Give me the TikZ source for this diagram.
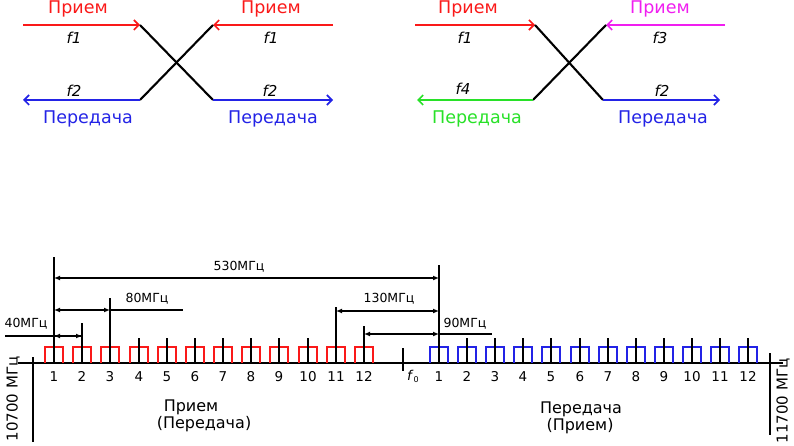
\documentclass[tikz,border=0pt]{standalone}
\usepackage{fontspec}
\setmainfont{DejaVu Sans}
\usetikzlibrary{arrows.meta}

\definecolor{rxred}{RGB}{250,25,25}
\definecolor{rxpink}{RGB}{240,30,240}
\definecolor{txblue}{RGB}{35,35,230}
\definecolor{txgreen}{RGB}{40,225,40}

\newcommand{\axisy}{363}
\newcommand{\rxpitch}{28.18}
\newcommand{\txpitch}{28.1}

\tikzset{
  feed/.style={line width=1.7pt,-{Straight Barb[length=5pt,width=10pt,line width=1.6pt]}},
  crossline/.style={line width=2.1pt},
  bandtext/.style={font=\fontsize{17.5}{18}\selectfont,anchor=base,inner sep=0pt},
  freqtext/.style={font=\fontsize{15}{16}\itshape,anchor=base,inner sep=0pt},
  chbox/.style={line width=1.8pt},
  chtick/.style={line width=1.7pt},
  dimline/.style={line width=1.5pt,{Latex[length=6pt,width=5pt]}-{Latex[length=6pt,width=5pt]}},
  dimtext/.style={font=\fontsize{12.5}{13}\selectfont,anchor=base,inner sep=0pt},
  numtext/.style={font=\fontsize{13.5}{14}\selectfont,anchor=base,inner sep=0pt},
  sidetext/.style={font=\fontsize{16}{17}\selectfont,anchor=base,inner sep=0pt},
  edgetext/.style={font=\fontsize{15}{16}\selectfont,rotate=90,inner sep=0pt},
}

\begin{document}
\begin{tikzpicture}[x=1pt,y=-1pt]
\useasboundingbox (0,0) rectangle (794,446);

% draw first crossing (f1/f2 both sides)
\coordinate (a1) at (23,25);  \coordinate (a2) at (140,25);
\coordinate (a3) at (213,25); \coordinate (a4) at (333,25);
\coordinate (b1) at (23,100); \coordinate (b2) at (140,100);
\coordinate (b3) at (213,100);\coordinate (b4) at (333,100);

\draw[feed,rxred] (a1) -- (a2);
\draw[feed,rxred] (a4) -- (a3);
\draw[crossline] (a2) -- (b3);
\draw[crossline] (b2) -- (a3);
\draw[feed,txblue] (b2) -- (b1);
\draw[feed,txblue] (b3) -- (b4);

\node[bandtext,rxred] (rxA) at (78,13.5) {Прием};
\node[bandtext,rxred] (rxB) at (271,13.5) {Прием};
\node[freqtext] (fA1) at (74,44) {f1};
\node[freqtext] (fB1) at (271,44) {f1};
\node[freqtext] (fA2) at (74,97) {f2};
\node[freqtext] (fB2) at (270,97) {f2};
\node[bandtext,txblue] (txA) at (88,124) {Передача};
\node[bandtext,txblue] (txB) at (273,124) {Передача};

% draw second crossing (four frequencies)
\coordinate (c1) at (415,25); \coordinate (c2) at (535,25);
\coordinate (c3) at (606,25); \coordinate (c4) at (725,25);
\coordinate (e1) at (417,100);\coordinate (e2) at (533,100);
\coordinate (e3) at (603,100);\coordinate (e4) at (720,100);

\draw[feed,rxred] (c1) -- (c2);
\draw[feed,rxpink] (c4) -- (c3);
\draw[crossline] (c2) -- (e3);
\draw[crossline] (e2) -- (c3);
\draw[feed,txgreen] (e2) -- (e1);
\draw[feed,txblue] (e3) -- (e4);

\node[bandtext,rxred] (rxC) at (468,13.5) {Прием};
\node[bandtext,rxpink] (rxD) at (660,13.5) {Прием};
\node[freqtext] (fC1) at (465,44) {f1};
\node[freqtext] (fD3) at (660,44) {f3};
\node[freqtext] (fC4) at (463,95) {f4};
\node[freqtext] (fD2) at (662,97) {f2};
\node[bandtext,txgreen] (txC) at (477,124) {Передача};
\node[bandtext,txblue] (txD) at (663,124) {Передача};

% draw axis and band edges
\coordinate (axL) at (18,\axisy);
\coordinate (axR) at (783,\axisy);
\draw[chtick] (axL) -- (axR);

\coordinate (loA) at (33,357);  \coordinate (loB) at (33,442);
\coordinate (hiA) at (770,353); \coordinate (hiB) at (770,435);
\coordinate (f0A) at (403,348); \coordinate (f0B) at (403,371);
\draw[chtick] (loA) -- (loB);
\draw[chtick] (hiA) -- (hiB);
\draw[chtick] (f0A) -- (f0B);

\node[edgetext] (lowedge) at (13,399) {10700 МГц};
\node[edgetext] (highedge) at (783,401) {11700 МГц};
\node[numtext,anchor=base west] (f0) at (407,380) {\textit{f}\raisebox{-2pt}{\footnotesize 0}};

% draw channels
\foreach \k in {1,...,12}{
  \pgfmathsetmacro\rx{round(54+(\k-1)*\rxpitch)}
  \pgfmathsetmacro\tx{round(439+(\k-1)*\txpitch)}
  \coordinate (r\k) at (\rx,\axisy);
  \coordinate (t\k) at (\tx,\axisy);
  \draw[chbox,rxred] ([xshift=-9pt]r\k) -- ++(0,-16) -- ++(18,0) -- ++(0,16);
  \draw[chbox,txblue] ([xshift=-9pt]t\k) -- ++(0,-16) -- ++(18,0) -- ++(0,16);
  \draw[chtick] (r\k) -- ++(0,-25);
  \draw[chtick] (t\k) -- ++(0,-25);
  \node[numtext] (nr\k) at (\rx,381) {\k};
  \node[numtext] (nt\k) at (\tx,381) {\k};
}

% draw spacing dimensions
\draw[chtick] (r1) -- ++(0,-106);
\draw[chtick] (r2) -- ++(0,-40);
\draw[chtick] (r3) -- ++(0,-65);
\draw[chtick] (r11) -- ++(0,-56);
\draw[chtick] (r12) -- ++(0,-37);
\draw[chtick] (t1) -- ++(0,-98);

\draw[dimline] ([yshift=85pt]r1) -- ([yshift=85pt]t1);
\draw[dimline] ([yshift=53pt]r1) -- ([yshift=53pt]r3);
\draw[chtick] ([yshift=53pt]r3) -- ++(73,0);
\draw[dimline] ([yshift=27pt]r1) -- ([yshift=27pt]r2);
\draw[chtick] ([yshift=27pt]r2) -- ++(-77,0);
\draw[dimline] ([yshift=52pt]r11) -- ([yshift=52pt]t1);
\draw[dimline,line width=2.6pt] ([yshift=29pt]r12) -- ([yshift=29pt]t1);
\draw[chtick] ([yshift=29pt]t1) -- ++(53,0);

\node[dimtext] (d530) at (239,270) {530МГц};
\node[dimtext] (d80) at (147,302) {80МГц};
\node[dimtext] (d40) at (26,327) {40МГц};
\node[dimtext] (d130) at (389,302) {130МГц};
\node[dimtext] (d90) at (465,327) {90МГц};

% band names
\node[sidetext] (rxlow) at (191,411) {Прием};
\node[sidetext] (txlow) at (204,428) {(Передача)};
\node[sidetext] (txhigh) at (581,413) {Передача};
\node[sidetext] (rxhigh) at (580,430) {(Прием)};

\end{tikzpicture}
\end{document}
